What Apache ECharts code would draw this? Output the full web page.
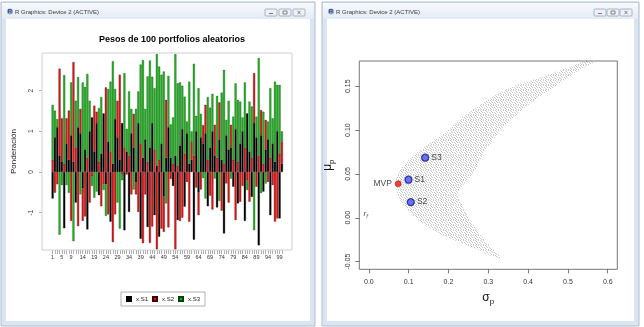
<!DOCTYPE html>
<html><head><meta charset="utf-8">
<script src="https://cdn.jsdelivr.net/npm/echarts@6/dist/echarts.min.js"></script>
<style>html,body{margin:0;padding:0;background:#fff;}#c{width:644px;height:327px;}</style>
</head><body><div id="c"></div>
<script>
// ---------- data: left panel (weights of 100 random portfolios) ----------
const categories = ["1","2","3","4","5","6","7","8","9","10","11","12","13","14","15","16","17","18","19","20","21","22","23","24","25","26","27","28","29","30","31","32","33","34","35","36","37","38","39","40","41","42","43","44","45","46","47","48","49","50","51","52","53","54","55","56","57","58","59","60","61","62","63","64","65","66","67","68","69","70","71","72","73","74","75","76","77","78","79","80","81","82","83","84","85","86","87","88","89","90","91","92","93","94","95","96","97","98","99","100"];
const shownLabels = ["1","5","9","14","19","24","29","34","39","44","49","54","59","64","69","74","79","84","89","94","99"];
const barYTicks = [-1,0,1,2];
const xS1 = [-0.65,0.85,1.10,0.40,0.25,-1.38,0.70,0.30,0.90,0.25, -0.75,1.10,0.95,-0.40,0.55,-1.41,1.00,1.34,0.50,1.20, -0.57,0.45,1.44,-0.30,0.75,-1.22,0.20,1.30,0.85,0.30, 1.20,-1.43,0.50,-0.98,0.95,0.60,-0.25,1.20,-1.64,0.35, 0.80,-1.35,0.60,1.20,-1.06,0.15,-1.59,0.70,-0.60,0.35, 1.10,0.35,-0.34,0.40,-1.18,0.65,1.05,-0.85,0.95,0.20, 0.30,-1.66,1.00,-0.50,0.85,0.70,0.95,-0.84,0.60,1.00, 0.40,-0.87,0.80,0.30,-1.51,0.90,0.55,0.60,-0.36,1.05, -0.77,0.70,1.00,-1.20,1.44,0.50,-0.61,1.20,0.85,-1.80, 0.90,-0.48,0.55,0.80,-1.06,0.70,0.25,1.00,-1.14,0.20];
const xS2 = [0.30,-0.51,-0.30,2.14,1.07,0.20,0.62,1.21,-1.20,2.45, 0.60,-1.33,0.60,-0.80,-1.09,0.35,-0.75,-0.10,1.13,0.28, 0.25,-0.84,-0.30,2.08,-1.04,0.50,-1.72,-1.04,0.90,2.09, -0.05,0.60,-0.06,0.40,-0.55,0.83,-0.30,-0.98,0.70,-1.75, -0.55,0.25,-1.74,-1.34,0.55,-1.90,0.30,-1.39,-0.87,1.42, -1.36,-0.17,0.20,-1.90,0.15,-1.20,-1.12,0.45,-0.24,-1.22, 0.45,0.40,-0.38,-0.56,-0.43,0.45,0.70,0.30,-0.58,-0.92, 0.76,0.35,0.91,-0.95,0.20,-0.28,-0.75,0.56,0.30,-1.18, 0.25,-0.73,-0.34,0.60,-0.20,-0.73,0.35,1.23,-0.36,0.40, 0.62,0.20,0.73,-0.24,0.35,-0.32,-1.22,-1.14,0.45,0.55];
const xS3 = [1.35,0.66,0.20,-1.54,-0.32,2.18,-0.32,-0.51,1.30,-1.70, 1.15,1.23,-0.55,2.20,1.54,2.06,0.75,-0.24,-0.63,-0.48, 1.32,1.39,-0.14,-0.78,1.29,1.72,2.52,0.74,-0.75,-1.39, -0.15,1.83,0.56,1.58,0.60,-0.43,1.55,0.78,1.94,2.40, 0.75,2.10,2.14,1.14,1.51,2.75,2.29,1.69,2.47,-0.77, 1.26,0.82,1.14,2.50,2.03,1.55,1.07,1.40,0.29,2.02, 0.25,2.26,0.38,2.06,0.58,-0.15,-0.65,1.54,0.98,0.92, -0.16,1.52,-0.71,1.65,2.31,0.38,1.20,-0.16,1.06,1.13, 1.52,1.03,0.34,1.60,-0.24,1.23,1.26,-1.43,0.51,2.40, -0.52,1.28,-0.28,0.44,1.71,0.62,1.97,1.14,1.69,0.25];

// ---------- data: right panel (random portfolios cloud, special portfolios) ----------
const sigmaTicks = [0,0.1,0.2,0.3,0.4,0.5,0.6];
const muTicks = [-0.05,0,0.05,0.10,0.15];
const cloudSigma = [0.0668,0.0744,0.0920,0.1121,0.1422,0.1925,0.2352,0.2854,0.3558,0.4236,0.4739,0.5116,0.5392,0.5668,0.5568,0.5241,0.4638,0.4060,0.3382,0.2879,0.2628,0.2251,0.2452,0.2754,0.3055,0.3307,0.3156,0.2804,0.2352,0.1774,0.1347,0.0995,0.0819,0.0719];
const cloudMu    = [0.0380,0.0517,0.0620,0.0711,0.0814,0.0974,0.1146,0.1306,0.1489,0.1591,0.1671,0.1729,0.1786,0.1786,0.1751,0.1671,0.1489,0.1306,0.1031,0.0734,0.0506,0.0286,0.0060,-0.0169,-0.0329,-0.0454,-0.0454,-0.0374,-0.0294,-0.0180,-0.0066,0.0071,0.0174,0.0277];
const mvpName = ["MVP"]; const mvpSigma = [0.0736]; const mvpMu = [0.0388];
const sNames = ["S1","S2","S3"];
const sSigma = [0.0995,0.1053,0.1414];
const sMu = [0.0434,0.0178,0.0685];
const rfSigma = 0; const rfMu = 0.005;

const FONT = 'Liberation Sans, Arial, sans-serif';

// fine stipple pattern for the cloud (fixed dot layout)
const tile = document.createElement('canvas'); tile.width = 5; tile.height = 5;
const tg = tile.getContext('2d');
tg.fillStyle = 'rgba(120,120,120,0.4)';
[[0,0],[3,0],[1,1],[4,2],[2,2],[0,3],[3,4],[1,4]].forEach(p => tg.fillRect(p[0], p[1], 1, 1));

function windowChrome(x, w, btnX) {
  const els = [];
  els.push({type:'rect', z:-20, shape:{x:x, y:2, width:w, height:324}, style:{fill:'#dbe5f2', stroke:'#aebdd1', lineWidth:1}});
  els.push({type:'rect', z:-19, shape:{x:x+1, y:3, width:w-2, height:16},
    style:{fill:new echarts.graphic.LinearGradient(0,0,0,1,[{offset:0,color:'#f7f9fd'},{offset:1,color:'#e4ebf5'}])}});
  els.push({type:'rect', z:-18, shape:{x:x+5, y:19, width:w-10, height:302}, style:{fill:'#ffffff'}});
  els.push({type:'circle', z:-17, shape:{cx:x+9, cy:11.5, r:3}, style:{fill:'#9aa6b6'}});
  els.push({type:'text', z:-16, style:{x:x+9, y:11.5, text:'R', fill:'#1f4fb5', font:'bold 6px '+FONT, align:'center', verticalAlign:'middle'}});
  els.push({type:'text', z:-16, style:{x:x+14, y:12, text:'R Graphics: Device 2 (ACTIVE)', fill:'#3a3a3a', font:'6px '+FONT, verticalAlign:'middle'}});
  btnX.forEach((bx, i) => {
    els.push({type:'rect', z:-16, shape:{x:bx, y:9, width:12, height:7, r:1}, style:{fill:'#eef2f8', stroke:'#97a5b8', lineWidth:0.8}});
    if (i === 0) els.push({type:'line', z:-15, shape:{x1:bx+4, y1:13.5, x2:bx+8, y2:13.5}, style:{stroke:'#555', lineWidth:0.8}});
    if (i === 1) els.push({type:'rect', z:-15, shape:{x:bx+4, y:11, width:4, height:3}, style:{fill:'none', stroke:'#555', lineWidth:0.7}});
    if (i === 2) {
      els.push({type:'line', z:-15, shape:{x1:bx+4.5, y1:10.8, x2:bx+7.5, y2:14.2}, style:{stroke:'#555', lineWidth:0.7}});
      els.push({type:'line', z:-15, shape:{x1:bx+7.5, y1:10.8, x2:bx+4.5, y2:14.2}, style:{stroke:'#555', lineWidth:0.7}});
    }
  });
  return els;
}

const chart = echarts.init(document.getElementById('c'), null, {renderer:'canvas', width:644, height:327});

const barBase = {type:'bar', stack:'w', stackStrategy:'samesign', xAxisIndex:0, yAxisIndex:0,
  barCategoryGap:'12%', animation:false, silent:true};

const option = {
  animation: false,
  textStyle: {fontFamily: FONT},
  title: {text:'Pesos de 100 portfolios aleatorios', left:167, top:30, textAlign:'center',
    textStyle:{fontSize:9, fontWeight:'bold', color:'#000', fontFamily:FONT}},
  legend: {data:['x.S1','x.S2','x.S3'], left:121, top:292, icon:'rect', itemWidth:4, itemHeight:4, itemGap:4,
    padding:[4,5,4,5], borderColor:'#b0b0b0', borderWidth:1, textStyle:{fontSize:6, color:'#222', fontFamily:FONT}},
  grid: [
    {left:51.46, top:53, width:231.6, height:197, containLabel:false},
    {left:359.3, top:61, width:258, height:208.3, show:true, borderColor:'#777', borderWidth:1, backgroundColor:'transparent'}
  ],
  xAxis: [
    {type:'category', gridIndex:0, data:categories, boundaryGap:true, position:'bottom',
      axisLine:{show:false, onZero:false},
      axisTick:{show:true, interval:0, alignWithLabel:true, length:4, lineStyle:{color:'#777', width:0.6}},
      axisLabel:{interval:(i, v) => shownLabels.includes(v), fontSize:5.5, color:'#333', margin:4, hideOverlap:false}},
    {type:'value', gridIndex:1, min:-0.024, max:0.624, position:'bottom',
      name:'{s|σ}{p|p}', nameLocation:'middle', nameGap:20,
      nameTextStyle:{rich:{s:{fontSize:12, color:'#111', fontFamily:FONT}, p:{fontSize:8, color:'#111', padding:[8,0,0,0], fontFamily:FONT}}},
      splitLine:{show:false}, axisLine:{show:false, onZero:false},
      axisTick:{show:true, customValues:sigmaTicks, length:4, lineStyle:{color:'#555', width:0.8}},
      axisLabel:{customValues:sigmaTicks, formatter:v => v.toFixed(1), fontSize:7, color:'#333', margin:9}}
  ],
  yAxis: [
    {type:'value', gridIndex:0, min:-1.916, max:2.924, offset:9.46, position:'left',
      name:'Ponderación', nameLocation:'middle', nameRotate:90, nameGap:24,
      nameTextStyle:{fontSize:8, color:'#222', fontFamily:FONT},
      splitLine:{show:false}, axisLine:{show:false, onZero:false},
      axisTick:{show:true, customValues:barYTicks, length:3, lineStyle:{color:'#777', width:0.6}},
      axisLabel:{customValues:barYTicks, rotate:90, fontSize:6.5, color:'#333', margin:7}},
    {type:'value', gridIndex:1, min:-0.0588, max:0.1788, position:'left',
      name:'{m|μ}{p|p}', nameLocation:'middle', nameRotate:90, nameGap:24,
      nameTextStyle:{rich:{m:{fontSize:12, color:'#111', fontFamily:FONT}, p:{fontSize:8, color:'#111', padding:[8,0,0,0], fontFamily:FONT}}},
      splitLine:{show:false}, axisLine:{show:false, onZero:false},
      axisTick:{show:true, customValues:muTicks, length:4, lineStyle:{color:'#555', width:0.8}},
      axisLabel:{customValues:muTicks, formatter:v => v.toFixed(2), rotate:90, fontSize:7, color:'#333', margin:8}}
  ],
  graphic: [].concat(
    windowChrome(1, 314, [265, 279, 293]),
    windowChrome(322, 317, [594, 607, 620]),
    [{type:'rect', z:10, shape:{x:42, y:53, width:250, height:197}, style:{fill:'none', stroke:'#cfcfcf', lineWidth:1}}]
  ),
  series: [
    Object.assign({}, barBase, {name:'x.S1', data:xS1, itemStyle:{color:'#000000', borderColor:'#000', borderWidth:0.3}}),
    Object.assign({}, barBase, {name:'x.S2', data:xS2, itemStyle:{color:'#e81515', borderColor:'#400000', borderWidth:0.3}}),
    Object.assign({}, barBase, {name:'x.S3', data:xS3, itemStyle:{color:'#22b322', borderColor:'#004000', borderWidth:0.3}}),
    {type:'custom', xAxisIndex:1, yAxisIndex:1, clip:true, silent:true, data:[[0,0]],
      renderItem: function(params, api) {
        const pts = cloudSigma.map((s, i) => api.coord([s, cloudMu[i]]));
        return {type:'polygon', shape:{points:pts, smooth:0.3}, style:{fill:{image:tile, repeat:'repeat'}, stroke:'none'}};
      }},
    {type:'scatter', xAxisIndex:1, yAxisIndex:1, silent:true, symbolSize:6,
      data: mvpSigma.map((s, i) => ({value:[s, mvpMu[i]], name:mvpName[i]})),
      itemStyle:{color:'#ee1111', borderColor:'#b00000', borderWidth:0.6},
      label:{show:true, position:'left', distance:3, formatter:'{b}', fontSize:8.5, color:'#111', fontFamily:FONT}},
    {type:'scatter', xAxisIndex:1, yAxisIndex:1, silent:true, symbolSize:7,
      data: sSigma.map((s, i) => ({value:[s, sMu[i]], name:sNames[i]})),
      itemStyle:{color:'#4657e6', borderColor:'#1818a0', borderWidth:1.3},
      label:{show:true, position:'right', distance:2, formatter:'{b}', fontSize:8.5, color:'#111', fontFamily:FONT}},
    {type:'scatter', xAxisIndex:1, yAxisIndex:1, silent:true, symbolSize:0,
      data:[{value:[rfSigma, rfMu], name:'rf'}],
      label:{show:true, position:'left', distance:1, formatter:'{r|r}{f|f}',
        rich:{r:{fontSize:8, color:'#222', fontStyle:'italic', fontFamily:FONT}, f:{fontSize:6, color:'#222', fontStyle:'italic', padding:[5,0,0,0], fontFamily:FONT}}}}
  ]
};
chart.setOption(option);
</script>
</body></html>
